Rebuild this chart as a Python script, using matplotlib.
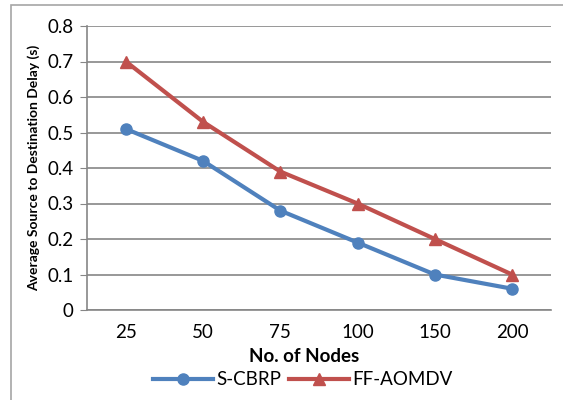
import matplotlib.pyplot as plt
from matplotlib.patches import Rectangle

nodes = ['25', '50', '75', '100', '150', '200']
s_cbrp = [0.51, 0.42, 0.28, 0.19, 0.10, 0.06]
ff_aomdv = [0.70, 0.53, 0.39, 0.30, 0.20, 0.10]

plt.rcParams['font.family'] = ['Lato', 'DejaVu Sans']

fig = plt.figure(figsize=(5.63, 4.0), dpi=100)
ax = fig.add_axes([0.155, 0.225, 0.823, 0.71])

x = range(len(nodes))
ax.plot(x, s_cbrp, color='#4F81BD', linewidth=3, marker='o', markersize=8, label='S-CBRP')
ax.plot(x, ff_aomdv, color='#C0504D', linewidth=3, marker='^', markersize=8, label='FF-AOMDV')

ax.set_xlim(-0.5, len(nodes) - 0.5)
ax.set_ylim(0, 0.8)
ax.set_yticks([i / 10 for i in range(9)])
ax.set_yticklabels(['0'] + [f'{i / 10:.1f}' for i in range(1, 9)], fontsize=13.5)
ax.set_xticks(list(x))
ax.set_xticklabels(nodes, fontsize=13.5)
ax.tick_params(axis='x', length=0, pad=10)
ax.tick_params(axis='y', length=5, color='#868686', pad=5)

ax.yaxis.grid(True, color='#868686', linewidth=1.2)
ax.set_axisbelow(True)
for side in ['top', 'right']:
    ax.spines[side].set_visible(False)
for side in ['left', 'bottom']:
    ax.spines[side].set_color('#868686')
    ax.spines[side].set_linewidth(1.2)

ax.set_xlabel('No. of Nodes', fontsize=13.5, fontweight='bold', labelpad=1)
ax.xaxis.set_label_coords(0.469, -0.135)
ax.set_ylabel('Average Source to Destination Delay (s)', fontsize=10, fontweight='bold', labelpad=5)

ax.legend(loc='center', bbox_to_anchor=(0.465, -0.245), ncol=2, frameon=False,
          fontsize=13.5, handlelength=3.2, columnspacing=0.4, handletextpad=0.2,
          borderaxespad=0)

fig.patches.append(Rectangle((0.0195, -0.02), 1.0, 1.0075, transform=fig.transFigure,
                             fill=False, edgecolor='#A6A6A6', linewidth=1.2))

fig.savefig('out.png', dpi=100)
